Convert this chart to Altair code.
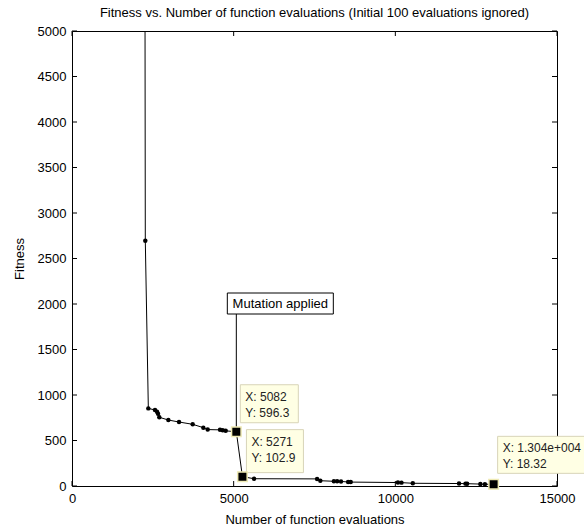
import altair as alt
import pandas as pd

# Best fitness found so far vs. number of function evaluations
evals = [2245, 2267, 2361, 2567, 2630, 2660, 2700, 2980, 3310, 3733, 4062, 4197,
         4578, 4660, 4753, 5082, 5271, 5630, 7580, 7680, 8100, 8200, 8320, 8540,
         8620, 10080, 10190, 10540, 11970, 12170, 12220, 12630, 12770, 13040]
fitness = [9000, 2696, 853, 835, 817, 795, 755, 725, 703, 678, 641, 620,
           617, 612, 606, 596.3, 102.9, 80, 78, 58, 52, 51, 50, 44,
           43, 38, 37, 30, 27, 26, 25.5, 21, 20, 18.32]

# Data tips
tip_x = [5082, 5271, 13040]
tip_y = [596.3, 102.9, 18.32]
tip_text = ["X: 5082\nY: 596.3", "X: 5271\nY: 102.9", "X: 1.304e+004\nY: 18.32"]

# Annotation for the point where mutation kicks in
mutation_x = 5082
mutation_y = 596.3
mutation_label = "Mutation applied"
mutation_label_y = 2000

x_ticks = [0, 5000, 10000, 15000]
y_ticks = [0, 500, 1000, 1500, 2000, 2500, 3000, 3500, 4000, 4500, 5000]

FONT = "Liberation Sans"
W, H = 485, 455

df = pd.DataFrame({"evals": evals, "fitness": fitness, "idx": range(len(evals))})
tips = pd.DataFrame({"x": tip_x, "y": tip_y, "text": tip_text, "i": range(3)})
ann = pd.DataFrame({"x": [mutation_x], "y": [mutation_y], "ly": [mutation_label_y],
                    "label": [mutation_label]})
xt = pd.DataFrame({"v": x_ticks})
yt = pd.DataFrame({"v": y_ticks})

xs = alt.Scale(domain=[0, 15000], nice=False, zero=False)
ys = alt.Scale(domain=[0, 5000], nice=False, zero=False)

x_axis = alt.Axis(values=x_ticks, format="d", ticks=False, domain=False, grid=False,
                  labelPadding=6, labelFlush=False, labelOverlap=False,
                  title="Number of function evaluations", titlePadding=8)
y_axis = alt.Axis(values=y_ticks, format="d", ticks=False, domain=False, grid=False,
                  labelPadding=6, labelFlush=False, labelOverlap=False,
                  title="Fitness", titlePadding=11)

base = alt.Chart(df)

line = base.mark_line(color="black", strokeWidth=1, clip=True).encode(
    x=alt.X("evals:Q", scale=xs, axis=x_axis),
    y=alt.Y("fitness:Q", scale=ys, axis=y_axis),
    order="idx:Q",
)
dots = base.mark_circle(color="black", size=20, opacity=1, clip=True).encode(
    x=alt.X("evals:Q", scale=xs),
    y=alt.Y("fitness:Q", scale=ys),
)

ann_base = alt.Chart(ann)
ann_rule = ann_base.mark_rule(color="black", strokeWidth=1).encode(
    x=alt.X("x:Q", scale=xs), y=alt.Y("ly:Q", scale=ys), y2="y:Q"
)
ann_box = ann_base.mark_rect(fill="white", stroke="black", strokeWidth=1,
                             xOffset=-9, x2Offset=97, yOffset=-11, y2Offset=10).encode(
    x=alt.X("x:Q", scale=xs), x2="x:Q", y=alt.Y("ly:Q", scale=ys), y2="ly:Q"
)
ann_text = ann_base.mark_text(font=FONT, fontSize=13, color="black", align="center",
                              baseline="middle", dx=44, dy=0).encode(
    x=alt.X("x:Q", scale=xs), y=alt.Y("ly:Q", scale=ys), text="label:N"
)

# Data tip boxes: (x offset, x2 offset, y offset, y2 offset)
tip_geom = [(4, 62, -47, -9), (4, 61, -47, -4), (4, 96, -48, -11)]
tip_layers = []
for i, (xo, x2o, yo, y2o) in enumerate(tip_geom):
    tb = alt.Chart(tips).transform_filter(alt.datum.i == i)
    box = tb.mark_rect(fill="#FFFFE4", stroke="#D8D4B8", strokeWidth=1,
                       xOffset=xo, x2Offset=x2o, yOffset=yo, y2Offset=y2o).encode(
        x=alt.X("x:Q", scale=xs), x2="x:Q", y=alt.Y("y:Q", scale=ys), y2="y:Q"
    )
    txt = tb.mark_text(font=FONT, fontSize=12, color="#222", align="left",
                       baseline="top", lineBreak="\n", lineHeight=16,
                       dx=xo + 5, dy=yo + 7).encode(
        x=alt.X("x:Q", scale=xs), y=alt.Y("y:Q", scale=ys), text="text:N"
    )
    tip_layers += [box, txt]

squares = alt.Chart(tips).mark_square(fill="black", stroke="#EFEAB4", strokeWidth=1.5,
                                      size=90, opacity=1).encode(
    x=alt.X("x:Q", scale=xs), y=alt.Y("y:Q", scale=ys)
)

# Inward tick marks on all four sides
tk_top = alt.Chart(xt).mark_rule(color="black").encode(
    x=alt.X("v:Q", scale=xs), y=alt.value(0), y2=alt.value(5))
tk_bot = alt.Chart(xt).mark_rule(color="black").encode(
    x=alt.X("v:Q", scale=xs), y=alt.value(H), y2=alt.value(H - 5))
tk_left = alt.Chart(yt).mark_rule(color="black").encode(
    y=alt.Y("v:Q", scale=ys), x=alt.value(0), x2=alt.value(5))
tk_right = alt.Chart(yt).mark_rule(color="black").encode(
    y=alt.Y("v:Q", scale=ys), x=alt.value(W), x2=alt.value(W - 5))

chart = alt.layer(
    tk_top, tk_bot, tk_left, tk_right,
    line, dots, ann_rule, ann_box, ann_text, *tip_layers, squares
).properties(
    width=W, height=H,
    background="white",
    title=alt.TitleParams(
        "Fitness vs. Number of function evaluations (Initial 100 evaluations ignored)",
        font=FONT, fontSize=13, fontWeight="normal", color="black", offset=5, anchor="middle"),
    autosize=alt.AutoSizeParams(type="none"),
    padding={"left": 72, "top": 31, "right": 27, "bottom": 43},
).configure_view(
    stroke="black", strokeWidth=1
).configure_axis(
    labelFont=FONT, labelFontSize=13, labelColor="black",
    titleFont=FONT, titleFontSize=13, titleColor="black", titleFontWeight="normal"
)

chart.save("out.html", embed_options={"renderer": "svg", "actions": False})
